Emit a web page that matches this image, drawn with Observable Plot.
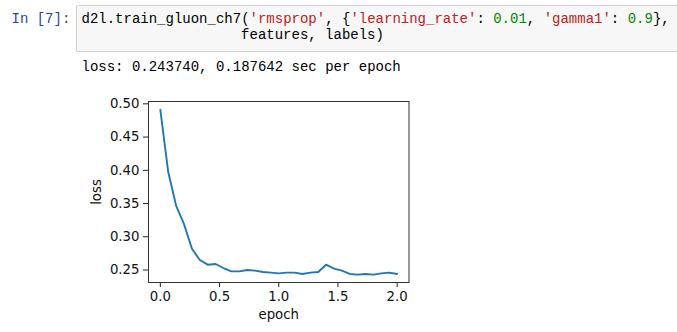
<!DOCTYPE html>
<html>
<head>
<meta charset="utf-8">
<script src="https://cdn.jsdelivr.net/npm/d3@7"></script>
<script src="https://cdn.jsdelivr.net/npm/@observablehq/plot@0.6"></script>
<style>
  html, body { margin: 0; padding: 0; background: #fff; width: 677px; height: 332px; overflow: hidden; position: relative; }
  .mono { font-family: "Liberation Mono", "DejaVu Sans Mono", monospace; font-size: 14px; line-height: 16.6px; white-space: pre; position: absolute; margin: 0; }
  #prompt { left: 11.5px; top: 10.7px; color: #303F9F; }
  #codebox { position: absolute; left: 76px; top: 5px; width: 640px; height: 45px; background: #f7f7f7; border: 1px solid #cfcfcf; border-radius: 2px; }
  #code1 { left: 81.5px; top: 10.7px; color: #000; }
  #code2 { left: 241.1px; top: 27.3px; color: #000; }
  #out { left: 81.5px; top: 58.7px; color: #000; }
  .s { color: #BA2121; }
  .n { color: #008800; }
  #chart { position: absolute; left: 0; top: 90px; }
</style>
</head>
<body>
<div id="prompt" class="mono">In [7]:</div>
<div id="codebox"></div>
<div id="code1" class="mono"><span>d2l.train_gluon_ch7(</span><span class="s">'rmsprop'</span><span>, {</span><span class="s">'learning_rate'</span><span>: </span><span class="n">0.01</span><span>, </span><span class="s">'gamma1'</span><span>: </span><span class="n">0.9</span><span>},</span></div>
<div id="code2" class="mono">features, labels)</div>
<div id="out" class="mono">loss: 0.243740, 0.187642 sec per epoch</div>
<div id="chart"></div>
<script>
const epochs = [0.000, 0.067, 0.133, 0.200, 0.267, 0.333, 0.400, 0.467, 0.533, 0.600,
                0.667, 0.733, 0.800, 0.867, 0.933, 1.000, 1.067, 1.133, 1.200, 1.267,
                1.333, 1.400, 1.467, 1.533, 1.600, 1.667, 1.733, 1.800, 1.867, 1.933, 2.000];
const losses = [0.491, 0.397, 0.347, 0.319, 0.282, 0.265, 0.258, 0.259, 0.253, 0.248,
                0.248, 0.250, 0.249, 0.247, 0.246, 0.245, 0.246, 0.246, 0.244, 0.246,
                0.247, 0.258, 0.252, 0.249, 0.244, 0.243, 0.244, 0.243, 0.245, 0.246, 0.244];
const xTicks = [0, 0.5, 1.0, 1.5, 2.0];
const yTicks = [0.25, 0.30, 0.35, 0.40, 0.45, 0.50];

const data = epochs.map((e, i) => ({epoch: e, loss: losses[i]}));

const chart = Plot.plot({
  width: 440,
  height: 242,
  marginLeft: 148,
  marginRight: 31.5,
  marginTop: 11,
  marginBottom: 50,
  style: {fontFamily: "DejaVu Sans", fontSize: "13.3px", color: "#111", background: "transparent", overflow: "visible"},
  x: {domain: [-0.1, 2.1]},
  y: {domain: [0.2312, 0.5035]},
  marks: [
    Plot.axisX({ticks: xTicks, tickFormat: d3.format(".1f"), tickSize: 5, tickPadding: 4, stroke: "#222",
                label: "epoch", labelAnchor: "center", labelArrow: "none", labelOffset: 36}),
    Plot.axisY({ticks: yTicks, tickFormat: d3.format(".2f"), tickSize: 5, tickPadding: 4, stroke: "#222",
                label: "loss", labelAnchor: "center", labelArrow: "none", labelOffset: 57}),
    Plot.frame({stroke: "#333", strokeWidth: 1}),
    Plot.line(data, {x: "epoch", y: "loss", stroke: "#1f77b4", strokeWidth: 1.9})
  ]
});
document.getElementById("chart").appendChild(chart);
</script>
</body>
</html>
